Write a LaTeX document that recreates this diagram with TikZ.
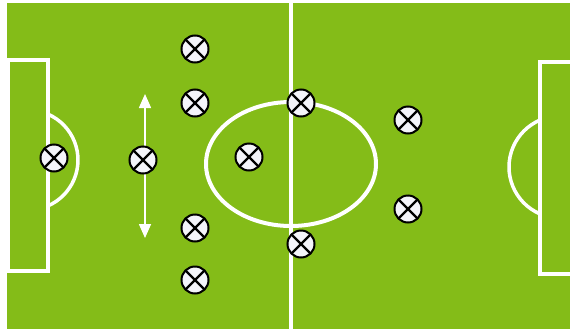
\documentclass[tikz,border=0pt]{standalone}
\usetikzlibrary{arrows.meta}
\definecolor{pitch}{RGB}{132,188,24}
\definecolor{shirt}{RGB}{244,244,250}
\begin{document}
\begin{tikzpicture}[x=1pt,y=-1pt,
  mark line/.style={draw=white,line width=3.5pt},
  player/.style={circle,draw=black,fill=shirt,line width=2pt,minimum size=27pt,inner sep=0pt,
    path picture={\draw[line width=2.2pt] (path picture bounding box.north west)--(path picture bounding box.south east)
      (path picture bounding box.south west)--(path picture bounding box.north east);}},
  shift arrow/.style={draw=white,line width=1.6pt,{Triangle[width=12pt,length=14pt]}-{Triangle[width=12pt,length=14pt]}}]
\useasboundingbox (0,0) rectangle (570,335);
\fill[pitch] (7,3) rectangle (570,329);
% markings
\draw[mark line,line width=4pt] (291,0)--(291,330);
\draw[mark line,line width=4pt] (291,164) ellipse [x radius=85,y radius=62];
\draw[mark line] (8,60) rectangle (48,271);
\draw[mark line] (48,114.2) arc[start angle=-66.4,end angle=66.4,radius=50];
\draw[mark line] (571,62)--(540,62)--(540,274)--(571,274);
\draw[mark line] (540,213.9) arc[start angle=113.1,end angle=246.9,radius=51];
% moving back
\coordinate (top) at (145,94);
\coordinate (bottom) at (145,238);
\draw[shift arrow] (top)--(bottom);
% players
\node[player] (keeper) at (54,158) {};
\node[player] (libero) at (143,160) {};
\node[player] (back1) at (195,49) {};
\node[player] (back2) at (195,103) {};
\node[player] (back3) at (195,228) {};
\node[player] (back4) at (195,280) {};
\node[player] (mid) at (249,157) {};
\node[player] (wing1) at (301,103) {};
\node[player] (wing2) at (301,244) {};
\node[player] (fwd1) at (408,120) {};
\node[player] (fwd2) at (408,209) {};
\end{tikzpicture}
\end{document}
